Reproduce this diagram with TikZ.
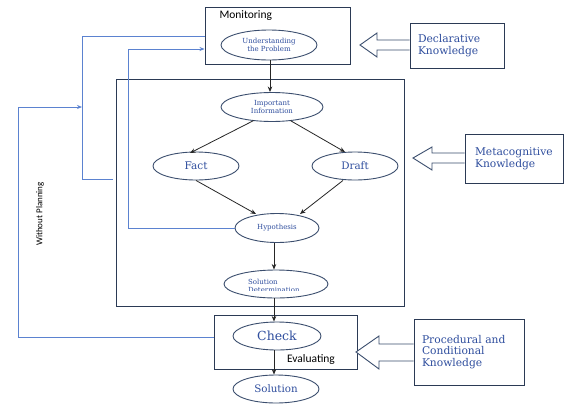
\documentclass[tikz,border=0pt]{standalone}
\usepackage{fontspec}
\setmainfont{DejaVu Serif}
\newfontfamily\calib{Carlito}
\usetikzlibrary{arrows.meta,calc,shapes.geometric}
\definecolor{txtblue}{HTML}{2F4E9E}
\definecolor{edgec}{HTML}{3B4E6E}
\definecolor{boxc}{HTML}{2B3A55}
\definecolor{lineblue}{HTML}{5B82D0}
\begin{document}
\begin{tikzpicture}[x=1pt,y=-1pt,
  ell/.style={ellipse, draw=edgec, line width=0.9pt, fill=white, text=txtblue, inner sep=0pt, align=center},
  frame/.style={draw=boxc, line width=1pt, rectangle, inner sep=0pt},
  kbox/.style={draw=boxc, line width=1pt, rectangle, fill=white, text=txtblue, align=left, inner sep=0pt,
     font=\fontsize{10.7}{12}\selectfont},
  blk/.style={draw=edgec, line width=0.9pt, fill=white, line join=miter},
  arr/.style={-{Stealth[length=5.5pt,width=4.5pt]}, line width=0.8pt, draw=black!85},
  bline/.style={draw=lineblue, line width=0.9pt},
  barr/.style={bline, -{Stealth[length=5pt,width=4pt]}},
  small/.style={font=\fontsize{7}{7.6}\selectfont},
  lab/.style={font=\calib\fontsize{11.5}{13}\selectfont, text=black}
]
\useasboundingbox (0,0) rectangle (567,407);
\fill[white] (0,0) rectangle (567,407);

% frames
\node[frame, minimum width=145, minimum height=57] (mon) at (277.5,35.5) {};
\node[lab, anchor=west] (montxt) at (216,16) {Monitoring};
\node[frame, minimum width=288, minimum height=227] (big) at (260,192.5) {};
\node[frame, minimum width=143, minimum height=54] (chk) at (285.5,342) {};
\node[lab, anchor=center] (evtxt) at (311,359) {Evaluating};

% ellipses
\node[ell, small, minimum width=96, minimum height=30] (und) at (269,45) {Understanding\\the Problem};
\node[ell, small, minimum width=102, minimum height=29] (imp) at (272,107) {Important\\Information};
\node[ell, font=\fontsize{10.5}{12}\selectfont, minimum width=86, minimum height=28] (fact) at (196,166) {Fact};
\node[ell, font=\fontsize{10.3}{12}\selectfont, minimum width=86, minimum height=28] (draft) at (355,166) {Draft};
\node[ell, small, minimum width=84, minimum height=29] (hyp) at (277,228) {Hypothesis};
\node[ell, minimum width=104, minimum height=28] (sol) at (276,284) {};
\begin{scope}
  \clip (220,268) rectangle (330,290.5);
  \node[font=\fontsize{7}{8.5}\selectfont, text=txtblue, anchor=base west, align=left, inner sep=0pt] (soltxt) at (248,292.5) {Solution\\Determination};
\end{scope}
\node[ell, font=\fontsize{12.5}{14}\selectfont, minimum width=88, minimum height=28] (check) at (277,336) {Check};
\node[ell, font=\fontsize{10.3}{12}\selectfont, minimum width=86, minimum height=28] (solution) at (276,389) {Solution};

% black arrows
\draw[arr] (und.south -| 270,0) -- (imp.north -| 270,0);
\draw[arr] (imp.south west) ++(18,3) coordinate (i1) (i1) -- (190,153) coordinate (f1);
\draw[arr] (imp.south east) ++(-18,3) coordinate (i2) (i2) -- (345,152) coordinate (d1);
\draw[arr] (fact.south) -- (256,214);
\draw[arr] (draft.south) ++(-12,0) coordinate (d2) (d2) -- (300,214);
\draw[arr] (hyp.south -| 274,0) -- (sol.north -| 274,0);
\draw[arr] (sol.south -| 274,0) -- (check.north -| 274,0);
\draw[arr] (check.south -| 274,0) -- (solution.north -| 274,0);

% blue feedback lines
\coordinate (b1) at (113,179);
\coordinate (m1) at (mon.west |- 0,36);
\draw[bline] (b1) -- (82,179) -- (82,36) -- (m1);
\coordinate (m2) at (mon.west |- 0,49);
\draw[barr] (hyp.west) -- (128,228) -- (128,49) -- (m2);
\coordinate (j1) at (82,107);
\draw[barr] (chk.west |- 0,337) -- (18,337) -- (18,107) -- (j1);
\node[font=\calib\fontsize{9}{10}\selectfont, rotate=90, text=black] (wp) at (40,214) {Without Planning};

% knowledge boxes
\node[kbox, minimum width=94, minimum height=45, text width=86] (decl) at (457,45.5) {\hspace*{4pt}Declarative\\\hspace*{4pt}Knowledge};
\node[kbox, minimum width=98, minimum height=49, text width=90] (meta) at (514,158.5) {\hspace*{6pt}Metacognitive\\\hspace*{6pt}Knowledge};
\node[kbox, minimum width=110, minimum height=66, text width=102, font=\fontsize{10.7}{11.5}\selectfont] (proc) at (469,352) {\hspace*{4pt}Procedural and\\\hspace*{4pt}Conditional\\\hspace*{4pt}Knowledge};

% block arrows
\draw[blk] (decl.west |- 0,40) -- (377,40) -- (377,33) -- (360,45) -- (377,57) -- (377,50) -- (decl.west |- 0,50);
\draw[blk] (meta.west |- 0,153) -- (432,153) -- (432,147) -- (413,158) -- (432,170) -- (432,163) -- (meta.west |- 0,163);
\draw[blk] (proc.west |- 0,344) -- (379,344) -- (379,336) -- (356,352) -- (379,369) -- (379,361) -- (proc.west |- 0,361);
\end{tikzpicture}
\end{document}
